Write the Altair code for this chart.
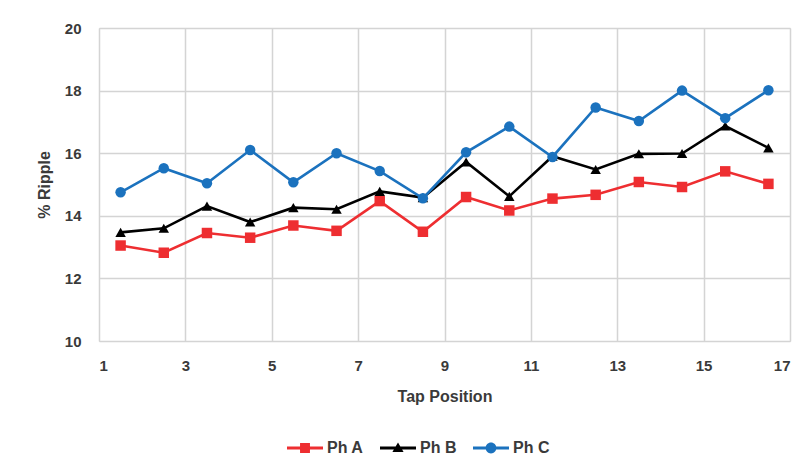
import altair as alt
import pandas as pd

tap = [1.5, 2.5, 3.5, 4.5, 5.5, 6.5, 7.5, 8.5, 9.5, 10.5, 11.5, 12.5, 13.5, 14.5, 15.5, 16.5]
ph_a = [13.05, 12.82, 13.45, 13.30, 13.69, 13.52, 14.47, 13.49, 14.60, 14.17, 14.55, 14.67, 15.08, 14.92, 15.42, 15.02]
ph_b = [13.47, 13.60, 14.31, 13.80, 14.26, 14.21, 14.78, 14.58, 15.72, 14.62, 15.90, 15.48, 15.98, 15.99, 16.87, 16.17]
ph_c = [14.75, 15.52, 15.04, 16.10, 15.07, 16.00, 15.43, 14.56, 16.03, 16.85, 15.88, 17.46, 17.03, 18.00, 17.12, 18.01]

series_names = ["Ph A", "Ph B", "Ph C"]
series_colors = ["#EE2E31", "#000000", "#1B72BE"]
marker_shapes = ["square", "triangle-up", "circle"]
legend_shapes = [
    "M-2,-0.17H2V0.17H-2Z M-0.55,-0.55H0.55V0.55H-0.55Z",
    "M-2,-0.17H2V0.17H-2Z M0,-0.62L0.62,0.45H-0.62Z",
    "M-2,-0.17H2V0.17H-2Z M-0.6,0A0.6,0.6 0 1,1 0.6,0A0.6,0.6 0 1,1 -0.6,0Z",
]
x_ticks = list(range(1, 18, 2))
y_ticks = [10, 12, 14, 16, 18, 20]

rows = []
for name, vals in zip(series_names, [ph_a, ph_b, ph_c]):
    for t, v in zip(tap, vals):
        rows.append({"tap": t, "ripple": v, "series": name})
df = pd.DataFrame(rows)

FONT = "Liberation Sans"
TXT = "#3a3a3a"
GRID = "#d4d4d4"

axis_style = dict(
    grid=True,
    gridColor=GRID,
    gridWidth=1.5,
    domain=False,
    ticks=False,
    labelFont=FONT,
    labelFontSize=15,
    labelFontWeight="bold",
    labelColor=TXT,
    titleFont=FONT,
    titleFontSize=16,
    titleFontWeight="bold",
    titleColor=TXT,
)

x_enc = alt.X(
    "tap:Q",
    scale=alt.Scale(domain=[1, 17], nice=False, zero=False),
    axis=alt.Axis(values=x_ticks, title="Tap Position", labelPadding=17, titlePadding=15, **axis_style),
)
y_enc = alt.Y(
    "ripple:Q",
    scale=alt.Scale(domain=[10, 20], nice=False, zero=False),
    axis=alt.Axis(values=y_ticks, title="% Ripple", labelPadding=18, titlePadding=12, **axis_style),
)

base = alt.Chart(df)

lines = base.mark_line(strokeWidth=2.6).encode(
    x=x_enc,
    y=y_enc,
    color=alt.Color("series:N", scale=alt.Scale(domain=series_names, range=series_colors), legend=None),
    detail="series:N",
)

points = base.mark_point(filled=True, opacity=1, size=110).encode(
    x=x_enc,
    y=y_enc,
    color=alt.Color("series:N", scale=alt.Scale(domain=series_names, range=series_colors), legend=None),
    shape=alt.Shape("series:N", scale=alt.Scale(domain=series_names, range=marker_shapes), legend=None),
)

leg = alt.Legend(
    title=None,
    orient="none",
    legendX=197,
    legendY=411,
    direction="horizontal",
    symbolSize=324,
    symbolStrokeWidth=0,
    labelFont=FONT,
    labelFontSize=16,
    labelFontWeight="bold",
    labelColor=TXT,
    labelOffset=13,
    columnPadding=16,
)

legend_layer = base.mark_point(filled=True, opacity=1).encode(
    color=alt.Color("series:N", scale=alt.Scale(domain=series_names, range=series_colors), legend=leg),
    shape=alt.Shape("series:N", scale=alt.Scale(domain=series_names, range=legend_shapes), legend=leg),
).transform_filter("false")

chart = (
    alt.layer(lines, points, legend_layer)
    .resolve_scale(color="independent", shape="independent")
    .properties(
        width=691,
        height=313,
        autosize=alt.AutoSizeParams(type="none"),
        padding={"left": 91, "top": 20, "right": 5, "bottom": 120},
    )
    .configure_view(stroke=GRID, strokeWidth=1.5)
    .configure(background="white")
)

chart.save("out.html", embed_options={"renderer": "svg", "actions": False})
